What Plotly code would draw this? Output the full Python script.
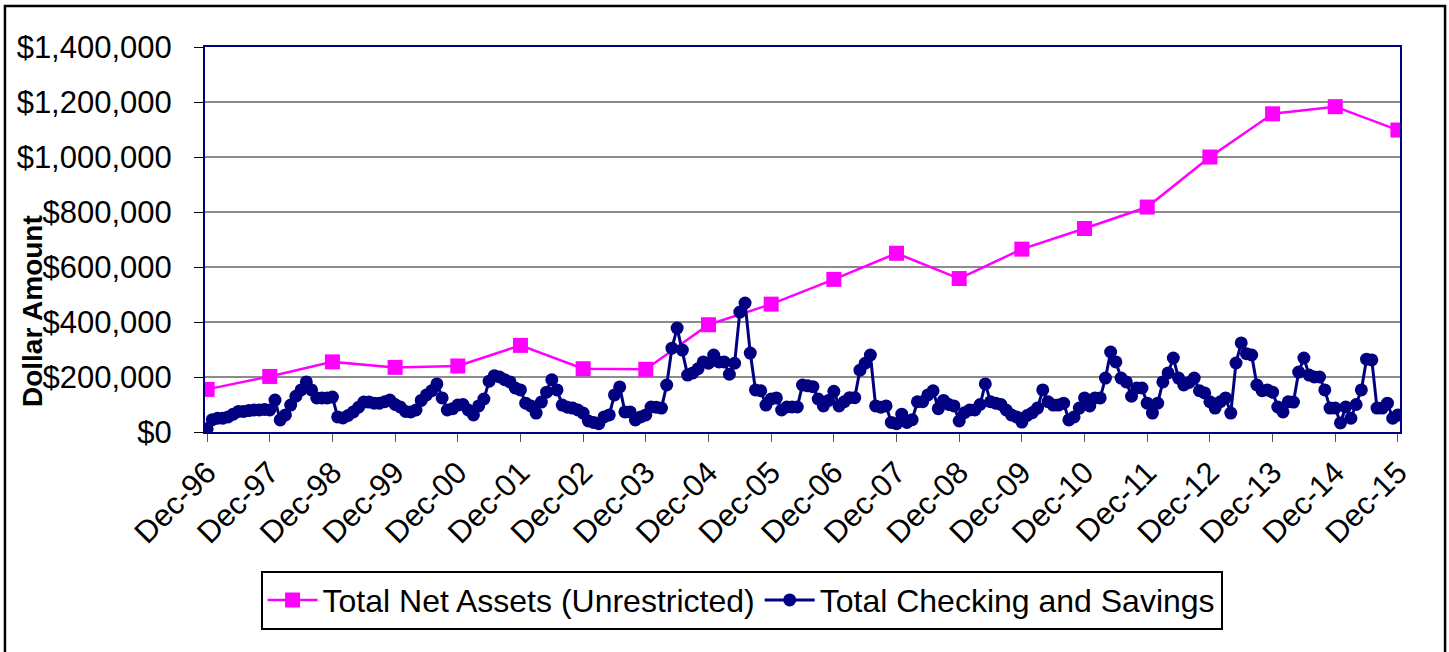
import plotly.graph_objects as go

# Year-end tick labels (every 12 months)
year_labels = ["Dec-96", "Dec-97", "Dec-98", "Dec-99", "Dec-00", "Dec-01", "Dec-02",
               "Dec-03", "Dec-04", "Dec-05", "Dec-06", "Dec-07", "Dec-08", "Dec-09",
               "Dec-10", "Dec-11", "Dec-12", "Dec-13", "Dec-14", "Dec-15"]

# Total Net Assets (Unrestricted), one value per December
net_assets = [155000, 202000, 255000, 235000, 240000, 315000, 230000, 228000,
              390000, 465000, 555000, 650000, 558000, 665000, 740000, 818000,
              1000000, 1157000, 1183000, 1098000]

# Total Checking and Savings, monthly Dec-96 .. Dec-15 (in $ thousands)
checking_k = [
    12, 45, 50, 50, 55, 65, 75, 75, 78, 80, 80, 82, 80,
    116, 44, 62, 98, 130, 153, 182, 153, 124, 124, 124, 127,
    55, 51, 60, 73, 90, 109, 109, 105, 105, 110, 116, 100,
    91, 75, 73, 80, 115, 135, 150, 175, 124, 80, 85, 98,
    100, 80, 62, 95, 120, 185, 205, 200, 190, 182, 160, 153,
    105, 95, 69, 109, 145, 190, 153, 98, 90, 87, 80, 69,
    40, 35, 30, 55, 62, 135, 164, 73, 73, 44, 55, 62,
    91, 90, 87, 171, 305, 378, 298, 207, 215, 230, 255, 250,
    280, 255, 255, 210, 250, 436, 469, 287, 153, 150, 98, 120,
    124, 80, 91, 91, 91, 171, 168, 165, 120, 95, 115, 148,
    95, 110, 125, 125, 225, 250, 280, 95, 90, 95, 35, 30,
    65, 35, 45, 110, 110, 135, 150, 85, 115, 100, 95, 40,
    70, 80, 80, 100, 175, 110, 105, 100, 80, 62, 55, 36,
    60, 70, 87, 153, 110, 98, 98, 105, 44, 55, 87, 124,
    95, 124, 124, 196, 291, 255, 196, 182, 130, 160, 160, 105,
    69, 105, 182, 215, 269, 196, 171, 180, 196, 150, 142, 110,
    87, 110, 124, 69, 251, 324, 285, 280, 171, 150, 153, 145,
    91, 73, 110, 109, 218, 269, 207, 200, 200, 153, 87, 87,
    33, 91, 50, 100, 153, 265, 262, 87, 87, 105, 50, 62,
]
checking = [v * 1000 for v in checking_k]

month_idx = list(range(len(checking)))
year_idx = [i * 12 for i in range(len(year_labels))]

FONT = "Liberation Sans, Arial, sans-serif"
PINK = "#FF00FF"
NAVY = "#000080"

fig = go.Figure()
fig.add_trace(go.Scatter(
    x=year_idx, y=net_assets, mode="lines+markers",
    name="Total Net Assets (Unrestricted)",
    line=dict(color=PINK, width=2.5),
    marker=dict(symbol="square", size=15, color=PINK),
))
fig.add_trace(go.Scatter(
    x=month_idx, y=checking, mode="lines+markers",
    name="Total Checking and Savings",
    line=dict(color=NAVY, width=3),
    marker=dict(symbol="circle", size=13, color=NAVY),
))

fig.update_layout(
    width=1449, height=652,
    margin=dict(l=205, r=49, t=47, b=220),
    paper_bgcolor="white", plot_bgcolor="white",
    font=dict(family=FONT, size=31, color="black"),
    showlegend=True,
    legend=dict(
        orientation="h", x=0.449, xanchor="center", y=-0.36, yanchor="top",
        bordercolor="black", borderwidth=2, bgcolor="white",
        font=dict(family=FONT, size=32, color="black"),
        itemwidth=50, tracegroupgap=0,
    ),
    xaxis=dict(
        range=[-0.4, 228.4], tickmode="array", tickvals=year_idx, ticktext=year_labels,
        tickangle=-45, ticks="outside", ticklen=8, tickcolor="#555555", tickwidth=1,
        showgrid=False, zeroline=False,
        showline=True, linecolor=NAVY, linewidth=2, mirror=True,
        tickfont=dict(family=FONT, size=31, color="black"), automargin=False,
    ),
    yaxis=dict(
        range=[0, 1400000], tickmode="linear", tick0=0, dtick=200000,
        tickformat="$,.0f", ticks="outside", ticklen=9, tickcolor="black", tickwidth=1,
        ticklabelstandoff=16,
        showgrid=True, gridcolor="#8c8c8c", gridwidth=1.5, zeroline=False,
        showline=True, linecolor=NAVY, linewidth=2, mirror=True,
        tickfont=dict(family=FONT, size=31, color="black"), automargin=False,
    ),
    annotations=[dict(
        text="<b>Dollar Amount</b>", textangle=-90, showarrow=False,
        xref="paper", yref="paper", x=-0.1448, y=0.314,
        xanchor="center", yanchor="middle",
        font=dict(family=FONT, size=28, color="black"),
    )],
    shapes=[dict(
        type="rect", xref="paper", yref="paper",
        x0=-0.1674, x1=1.0377, y0=-0.60, y1=1.1065,
        line=dict(color="black", width=2.5), fillcolor="rgba(0,0,0,0)", layer="above",
    )],
)

fig.write_html(
    "out.html",
    config={"displayModeBar": False},
    post_script="document.body.style.margin='0';document.body.style.padding='0';",
)
